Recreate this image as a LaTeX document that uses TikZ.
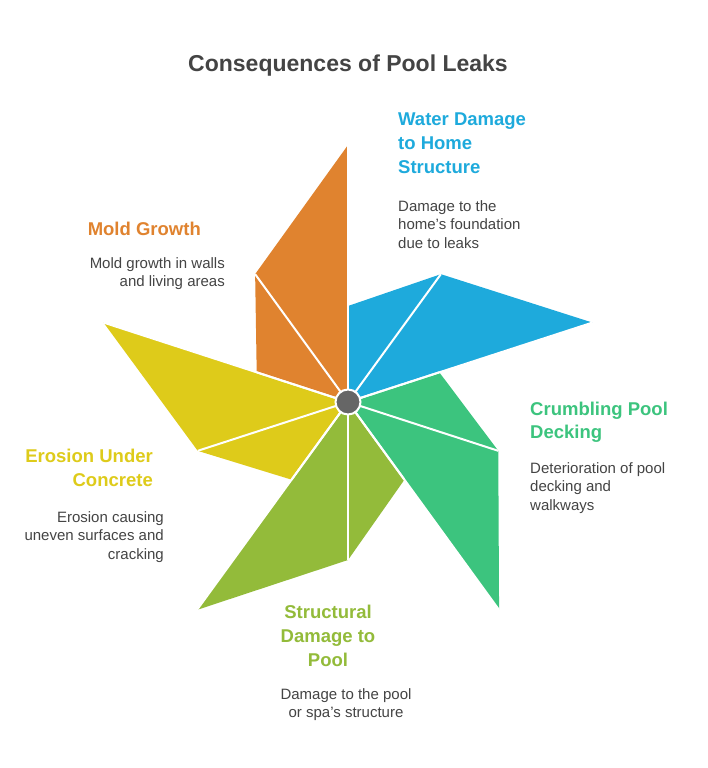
\documentclass[tikz,border=0pt]{standalone}
\usepackage{fontspec}
\setmainfont{Liberation Sans}
\usetikzlibrary{calc}
\definecolor{cOrange}{HTML}{E0832F}
\definecolor{cBlue}{HTML}{1EAADC}
\definecolor{cGreen}{HTML}{3CC47E}
\definecolor{cLime}{HTML}{93BB3A}
\definecolor{cYellow}{HTML}{DECB1A}
\definecolor{cText}{HTML}{444444}
\definecolor{cHub}{HTML}{666666}
\tikzset{
  heading/.style={inner sep=0pt, font=\fontsize{18.5}{23.8}\selectfont\bfseries},
  desc/.style={inner sep=0pt, text=cText, font=\fontsize{15}{18.5}\selectfont},
  sep/.style={draw=white, line width=2pt},
}
\begin{document}
\begin{tikzpicture}[x=1pt,y=-1pt]
\useasboundingbox[fill=white] (0,0) rectangle (708,768);
\coordinate (c) at (348,402);
\foreach \k/\col in {0/cOrange,1/cBlue,2/cGreen,3/cLime,4/cYellow}{
  \pgfmathsetmacro\at{72*\k-90}
  \pgfmathsetmacro\aa{72*\k-126}
  \pgfmathsetmacro\ab{72*\k-162}
  \coordinate (t\k) at ($(c)+(\at:257)$);
  \coordinate (a\k) at ($(c)+(\aa:158)$);
  \coordinate (b\k) at ($(c)+(\ab:96)$);
  \fill[\col] (c) -- (t\k) -- (a\k) -- (b\k) -- cycle;
}
\foreach \k in {0,...,4}{
  \draw[sep] (c) -- (a\k);
  \draw[sep] (c) -- (t\k);
  \draw[sep] (c) -- (b\k);
}
\node[circle, fill=cHub, draw=white, line width=2pt, minimum size=25pt, inner sep=0pt] (hub) at (c) {};

\node[inner sep=0pt, anchor=north, text=cText, font=\fontsize{23}{28}\selectfont\bfseries] (title) at (348,55) {Consequences of Pool Leaks};

% Water damage (blue)
\node[heading, text=cBlue, anchor=north west, align=left] (h1) at (398,113) {Water Damage\\to Home\\Structure};
\node[desc, anchor=north west, align=left] (d1) at (398,200) {Damage to the\\home's foundation\\due to leaks};

% Mold growth (orange)
\node[heading, text=cOrange, anchor=north east, align=right] (h0) at (201,222) {Mold Growth};
\node[desc, anchor=north east, align=right] (d0) at (225,257) {Mold growth in walls\\and living areas};

% Crumbling pool decking (green)
\node[heading, text=cGreen, anchor=north west, align=left] (h2) at (530,401.5) {Crumbling Pool\\Decking};
\node[desc, anchor=north west, align=left] (d2) at (530,462) {Deterioration of pool\\decking and\\walkways};

% Erosion under concrete (yellow)
\node[heading, text=cYellow, anchor=north east, align=right] (h4) at (153,449) {Erosion Under\\Concrete};
\node[desc, anchor=north east, align=right] (d4) at (164,511) {Erosion causing\\uneven surfaces and\\cracking};

% Structural damage (lime)
\node[heading, text=cLime, anchor=north, align=center] (h3) at (328,605) {Structural\\Damage to\\Pool};
\node[desc, anchor=north, align=center] (d3) at (346,688) {Damage to the pool\\or spa's structure};
\end{tikzpicture}
\end{document}
